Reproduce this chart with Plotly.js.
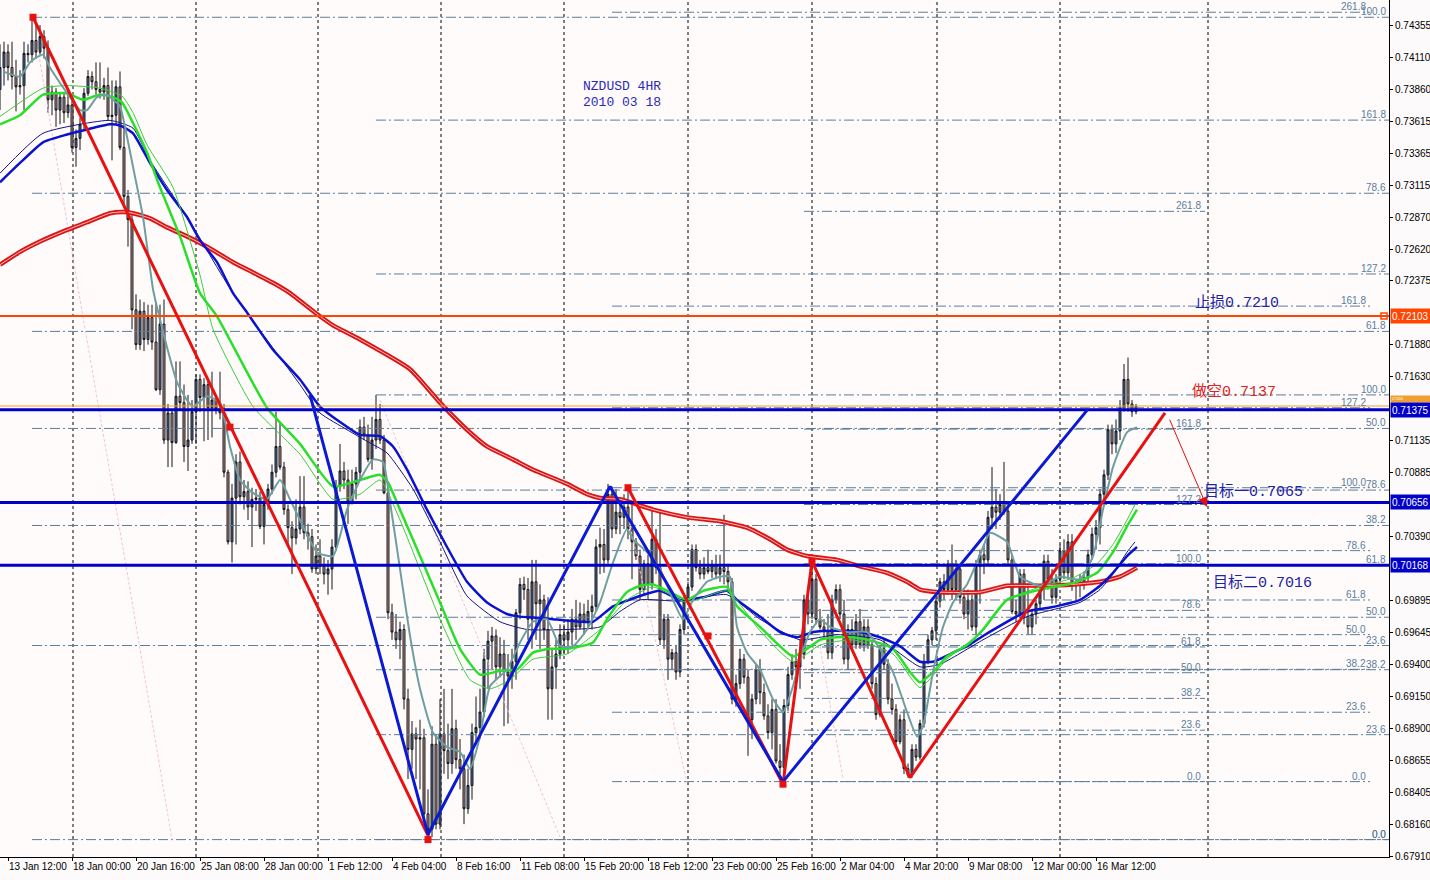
<!DOCTYPE html>
<html><head><meta charset="utf-8">
<script src="https://cdn.plot.ly/plotly-3.0.1.min.js"></script>
<style>html,body{margin:0;padding:0;background:#fcfafa;}</style>
</head><body>
<div id="chart" style="width:1430px;height:880px"></div>
<script>
// ---------- candle data (NZDUSD 4H) ----------
const opens=[.7386,.7403,.7415,.7403,.7396,.7388,.7389,.7414,.7413,.7424,.7415,.7427,.7418,.7378,.7384,.7370,.7380,.7368,.7374,.7341,.7348,.7359,.7383,.7396,.7392,.7386,.7384,.7389,.7365,.7366,.7388,.7341,.7303,.7285,.7215,.7188,.7214,.7192,.7209,.7190,.7153,.7204,.7114,.7135,.7112,.7148,.7143,.7109,.7114,.7136,.7161,.7147,.7157,.7139,.7145,.7138,.7135,.7089,.7035,.7069,.7097,.7070,.7074,.7062,.7068,.7069,.7047,.7064,.7076,.7089,.7109,.7093,.7060,.7046,.7038,.7045,.7062,.7042,.7039,.7014,.7024,.7016,.7010,.7014,.7031,.7078,.7090,.7083,.7066,.7080,.7089,.7124,.7118,.7099,.7114,.7130,.7114,.7073,.6980,.6965,.6959,.6967,.6913,.6874,.6886,.6882,.6883,.6824,.6812,.6878,.6816,.6886,.6873,.6863,.6890,.6866,.6859,.6828,.6846,.6887,.6891,.6903,.6944,.6958,.6962,.6938,.6948,.6934,.6931,.6942,.6980,.7002,.6998,.6975,.7004,.6987,.6990,.6967,.6921,.6938,.6948,.6963,.6959,.6965,.6975,.6969,.6979,.6973,.6981,.6985,.7031,.7033,.7021,.7072,.7045,.7058,.7054,.7062,.7045,.7035,.7024,.6998,.7018,.7002,.7037,.7015,.6959,.6975,.6944,.6949,.6934,.6967,.6989,.7000,.7029,.7015,.7010,.7015,.7012,.7017,.7010,.7015,.7012,.7004,.6913,.6925,.6944,.6930,.6897,.6913,.6936,.6918,.6900,.6887,.6905,.6865,.6860,.6908,.6932,.6942,.6938,.6948,.6990,.6979,.7006,.6975,.6969,.6966,.6949,.6990,.6998,.6979,.6944,.6967,.6955,.6973,.6955,.6969,.6955,.6925,.6901,.6952,.6940,.6913,.6905,.6880,.6897,.6859,.6854,.6874,.6868,.6894,.6942,.6959,.6966,.6989,.7004,.6998,.7018,.6998,.7014,.6992,.6979,.6990,.6969,.7016,.7025,.7021,.7054,.7062,.7058,.7064,.7059,.7021,.6981,.6979,.7010,.6977,.6969,.6979,.6987,.6998,.7020,.7006,.6992,.7006,.7028,.7011,.7035,.7001,.7004,.7002,.7007,.7025,.7041,.7046,.7072,.7087,.7122,.7111,.7121,.7139,.7161,.7142,.7136];
const highs=[.7421,.7423,.7421,.7423,.7409,.7401,.7423,.7421,.7442,.7436,.7436,.7432,.7424,.7389,.7387,.7384,.7384,.7382,.7378,.7355,.7364,.7387,.7401,.7400,.7407,.7407,.7395,.7403,.7393,.7393,.7400,.7359,.7308,.7289,.7227,.7223,.7221,.7219,.7219,.7221,.7219,.7223,.7142,.7138,.7175,.7175,.7157,.7149,.7145,.7165,.7165,.7162,.7161,.7167,.7147,.7167,.7142,.7091,.7080,.7103,.7105,.7083,.7082,.7077,.7076,.7074,.7072,.7080,.7095,.7136,.7128,.7097,.7064,.7051,.7068,.7086,.7086,.7049,.7045,.7033,.7037,.7023,.7021,.7037,.7083,.7111,.7097,.7091,.7091,.7093,.7130,.7132,.7126,.7132,.7149,.7142,.7118,.7077,.6987,.6979,.6973,.6971,.6921,.6896,.6891,.6897,.6890,.6843,.6892,.6886,.6913,.6921,.6894,.6921,.6897,.6882,.6870,.6859,.6894,.6915,.6921,.6952,.6966,.6969,.6967,.6961,.6959,.6948,.6952,.6983,.7007,.7008,.7007,.7021,.7021,.7002,.6994,.6992,.6952,.6959,.6971,.6971,.6975,.6983,.6990,.6988,.6987,.6990,.6994,.7037,.7046,.7045,.7080,.7078,.7076,.7068,.7072,.7078,.7064,.7038,.7029,.7021,.7025,.7060,.7045,.7060,.6979,.6979,.6952,.6955,.6971,.6992,.7004,.7033,.7033,.7021,.7023,.7029,.7021,.7025,.7025,.7056,.7018,.7007,.6932,.6952,.6948,.6936,.6917,.6940,.6944,.6925,.6909,.6913,.6913,.6878,.6913,.6938,.6948,.6952,.6959,.6994,.6998,.7020,.7010,.6983,.6975,.6979,.6994,.7002,.7002,.6990,.6971,.6975,.6979,.6983,.6975,.6975,.6959,.6930,.6955,.6959,.6944,.6925,.6909,.6901,.6905,.6863,.6878,.6878,.6897,.6948,.6963,.6969,.6992,.7007,.7010,.7021,.7033,.7021,.7018,.6998,.6998,.6994,.7021,.7029,.7033,.7059,.7093,.7076,.7072,.7097,.7064,.7025,.6990,.7014,.7014,.7002,.6983,.6990,.7002,.7025,.7025,.7014,.7010,.7033,.7037,.7041,.7041,.7006,.7010,.7012,.7029,.7046,.7052,.7076,.7091,.7126,.7126,.7130,.7145,.7173,.7178,.7145,.7142];
const lows=[.7370,.7389,.7393,.7386,.7369,.7382,.7370,.7407,.7407,.7410,.7413,.7410,.7368,.7366,.7357,.7359,.7360,.7364,.7337,.7326,.7339,.7355,.7381,.7386,.7382,.7379,.7378,.7362,.7331,.7359,.7339,.7296,.7264,.7200,.7184,.7184,.7183,.7188,.7184,.7152,.7149,.7111,.7093,.7093,.7111,.7138,.7097,.7090,.7111,.7111,.7136,.7113,.7114,.7116,.7134,.7130,.7085,.7033,.7019,.7033,.7064,.7060,.7052,.7031,.7059,.7045,.7033,.7060,.7072,.7085,.7091,.7056,.7033,.7010,.7033,.7041,.7037,.7029,.7011,.7010,.7010,.7002,.6994,.6998,.7028,.7074,.7076,.7049,.7064,.7068,.7083,.7114,.7097,.7091,.7107,.7111,.7072,.6975,.6959,.6952,.6944,.6905,.6851,.6859,.6851,.6843,.6820,.6804,.6806,.6812,.6812,.6855,.6851,.6855,.6859,.6843,.6816,.6824,.6835,.6878,.6882,.6899,.6921,.6936,.6928,.6930,.6892,.6894,.6921,.6928,.6975,.6990,.6959,.6952,.6959,.6952,.6959,.6897,.6897,.6921,.6944,.6948,.6948,.6955,.6959,.6967,.6963,.6967,.6967,.6981,.7010,.7011,.7018,.7038,.7041,.7041,.7045,.7037,.7006,.7021,.6990,.6994,.6990,.6998,.7010,.6955,.6952,.6928,.6936,.6928,.6930,.6963,.6987,.6997,.7012,.7006,.7006,.7010,.7007,.7006,.7004,.7002,.6998,.6909,.6907,.6921,.6925,.6869,.6882,.6909,.6909,.6897,.6882,.6874,.6863,.6855,.6846,.6904,.6928,.6932,.6921,.6944,.6971,.6975,.6971,.6967,.6959,.6944,.6944,.6987,.6975,.6940,.6936,.6952,.6952,.6952,.6950,.6952,.6921,.6897,.6899,.6936,.6909,.6901,.6876,.6878,.6855,.6852,.6852,.6865,.6866,.6891,.6940,.6955,.6959,.6984,.6990,.6994,.6990,.6990,.6987,.6975,.6967,.6966,.6963,.6987,.7010,.7018,.7045,.7045,.7052,.7056,.7018,.6979,.6973,.6976,.6971,.6963,.6963,.6971,.6983,.6990,.6998,.6987,.6987,.7002,.7006,.7007,.6997,.6990,.6992,.6998,.7004,.7021,.7029,.7033,.7068,.7083,.7103,.7104,.7114,.7136,.7136,.7132,.7134];
const closes=[.7403,.7415,.7403,.7396,.7388,.7389,.7414,.7413,.7424,.7415,.7427,.7418,.7378,.7384,.7370,.7380,.7368,.7374,.7341,.7348,.7359,.7383,.7396,.7392,.7386,.7384,.7389,.7365,.7366,.7388,.7341,.7303,.7285,.7215,.7188,.7214,.7192,.7209,.7190,.7153,.7204,.7114,.7135,.7112,.7148,.7143,.7109,.7114,.7136,.7161,.7147,.7157,.7139,.7145,.7138,.7135,.7089,.7035,.7069,.7097,.7070,.7074,.7062,.7068,.7069,.7047,.7064,.7076,.7089,.7109,.7093,.7060,.7046,.7038,.7045,.7062,.7042,.7039,.7014,.7024,.7016,.7010,.7014,.7031,.7078,.7090,.7083,.7066,.7080,.7089,.7124,.7118,.7099,.7114,.7130,.7114,.7073,.6980,.6965,.6959,.6967,.6913,.6874,.6886,.6882,.6883,.6824,.6812,.6878,.6816,.6886,.6873,.6863,.6890,.6866,.6859,.6828,.6846,.6887,.6891,.6903,.6944,.6958,.6962,.6938,.6948,.6934,.6931,.6942,.6980,.7002,.6998,.6975,.7004,.6987,.6990,.6967,.6921,.6938,.6948,.6963,.6959,.6965,.6975,.6969,.6979,.6973,.6981,.6985,.7031,.7033,.7021,.7072,.7045,.7058,.7054,.7062,.7045,.7035,.7024,.6998,.7018,.7002,.7037,.7015,.6959,.6975,.6944,.6949,.6934,.6967,.6989,.7000,.7029,.7015,.7010,.7015,.7012,.7017,.7010,.7015,.7012,.7004,.6913,.6925,.6944,.6930,.6897,.6913,.6936,.6918,.6900,.6887,.6905,.6865,.6860,.6908,.6932,.6942,.6938,.6948,.6990,.6979,.7006,.6975,.6969,.6966,.6949,.6990,.6998,.6979,.6944,.6967,.6955,.6973,.6955,.6969,.6955,.6925,.6901,.6952,.6940,.6913,.6905,.6880,.6897,.6859,.6854,.6874,.6868,.6894,.6942,.6959,.6966,.6989,.7004,.6998,.7018,.6998,.7014,.6992,.6979,.6990,.6969,.7016,.7025,.7021,.7054,.7062,.7058,.7064,.7059,.7021,.6981,.6979,.7010,.6977,.6969,.6979,.6987,.6998,.7020,.7006,.6992,.7006,.7028,.7011,.7035,.7001,.7004,.7002,.7007,.7025,.7041,.7046,.7072,.7087,.7122,.7111,.7121,.7139,.7161,.7142,.7136,.7140];

// ---------- time axis labels (bar index -> label) ----------
const xLabelBars=[2,18,34,50,66,82,98,114,130,146,162,178,194,210,226,242,258,274];
const xLabels=["13 Jan 12:00","18 Jan 00:00","20 Jan 16:00","25 Jan 08:00","28 Jan 00:00","1 Feb 12:00","4 Feb 04:00","8 Feb 16:00","11 Feb 08:00","15 Feb 20:00","18 Feb 12:00","23 Feb 00:00","25 Feb 16:00","2 Mar 04:00","4 Mar 20:00","9 Mar 08:00","12 Mar 00:00","16 Mar 12:00"];
const gridBars=[18.25,49,79.5,110.25,141,172,203,234.25,265,302];
// price scale labels (the ones hidden under the price tags are left out)
const yTicks=[0.74355,0.74110,0.73860,0.73615,0.73365,0.73115,0.72870,0.72620,0.72375,0.71880,0.71630,0.71135,0.70885,0.70390,0.69895,0.69645,0.69400,0.69150,0.68900,0.68655,0.68405,0.68160,0.67910];

// ---------- moving averages (sampled) ----------
const maTealX=[0.75,5,7.5,9.25,10.75,12.5,15,17.5,20,21.75,24.25,26.75,28.25,30,31.25,33.25,35.75,38.25,39.25,41.75,44.25,46.75,48.25,51.75,55,57.5,60,63.25,66.75,70,72.5,75,79.25,83.25,86.75,90,93.25,95.75,97.5,100,102.5,105,108.25,111.75,115,117.5,120,122.5,126.75,130,133.25,136.75,140,143.25,146.75,150,153.25,156.75,158.25,161.75,165,168.25,170.75,173.25,176.75,180,182.5,184.25,186.75,190,193.25,195.75,198.25,200,202.5,205,207.5,211.75,216.75,220,223.25,226.75,229.25,230.75,233.25,235.75,238.25,241.75,245,247.5,251.75,255,260,265,270,273.25,275.75,278.25,281.75,284.25];
const maTealY=[.7400,.7396,.7407,.7411,.7413,.7403,.7391,.7380,.7370,.7370,.7380,.7382,.7378,.7373,.7357,.7326,.7287,.7231,.7217,.7186,.7159,.7145,.7140,.7148,.7143,.7109,.7083,.7073,.7068,.7083,.7068,.7052,.7027,.7024,.7060,.7083,.7099,.7097,.7066,.7014,.6962,.6921,.6887,.6876,.6872,.6859,.6884,.6923,.6936,.6957,.6973,.6975,.6954,.6954,.6967,.6988,.7019,.7045,.7037,.7027,.7014,.6990,.6975,.6990,.7004,.7008,.7008,.6969,.6949,.6936,.6913,.6903,.6923,.6944,.6965,.6975,.6969,.6965,.6965,.6952,.6934,.6903,.6884,.6892,.6934,.6969,.6988,.7002,.7025,.7042,.7035,.7008,.7001,.7008,.7006,.7024,.7060,.7093,.7120,.7124];
const maGreenX=[0,5,10.75,16.75,20.75,25,28.25,30.5,33.25,36.75,40,45,50,54.25,66.75,75,83.25,90,95,97,100,105,110,115,120,125,129.25,133.25,137.5,141.75,148.25,151.75,156.75,160,163.25,167.5,171.75,175.75,181.75,184.25,190,195,198.25,201.75,205,209.25,213.25,218.25,223.25,227.5,230,233.25,236.75,241.75,245.75,251.75,260,268.25,274.25,278.25,281.75,284.25];
const maGreenY=[.7359,.7366,.7382,.7383,.7378,.7382,.7380,.7376,.7360,.7337,.7310,.7272,.7228,.7210,.7139,.7111,.7078,.7083,.7087,.7081,.7060,.7024,.6988,.6952,.6932,.6935,.6936,.6949,.6952,.6952,.6957,.6975,.6996,.7001,.7002,.6996,.6990,.6997,.7000,.6985,.6969,.6954,.6946,.6952,.6959,.6961,.6961,.6958,.6952,.6934,.6926,.6934,.6946,.6955,.6967,.6990,.6998,.7003,.7011,.7027,.7047,.7060];
const maGreen2X=[0,10.75,16.75,25,30.5,33.25,36.75,43.25,50,53.25,63.25,75,83.25,90,95,100,110,117.5,122.5,127.5,133.25,141.75,150,156.75,163.25,171.75,181.75,190,198.25,205,213.25,223.25,230,236.75,245.75,251.75,260,268.25,274.25,278.25,281.75,283.75];
const maGreen2Y=[.7365,.7387,.7389,.7387,.7381,.7368,.7343,.7310,.7242,.7200,.7140,.7103,.7068,.7072,.7083,.7052,.6975,.6928,.6921,.6928,.6944,.6948,.6967,.6990,.7000,.6988,.6997,.6966,.6942,.6955,.6959,.6948,.6922,.6944,.6966,.6990,.7000,.7007,.7018,.7033,.7052,.7064];
const maBlueX=[0,5,10.75,16.75,21.75,27.5,30,33.25,37.5,41.75,46.75,50,54.25,58.25,61.75,68.25,75,80,85,90,95,98.25,101.75,106.75,111.75,116.75,121.75,126.75,130,135,138.25,145,148.25,153.25,160,165,170,175.75,181.75,184.25,190,195,199.25,203.25,209.25,215,220,225,230,233.25,238.25,241.75,245.75,256.75,262.5,270,275,278.25,281.75,284.25];
const maBlueY=[.7314,.7329,.7345,.7351,.7355,.7359,.7358,.7352,.7329,.7308,.7287,.7269,.7252,.7228,.7213,.7184,.7161,.7140,.7128,.7118,.7117,.7109,.7091,.7060,.7031,.7004,.6988,.6979,.6977,.6976,.6975,.6973,.6973,.6985,.6993,.6997,.6990,.6992,.6997,.6990,.6977,.6965,.6961,.6965,.6966,.6965,.6961,.6954,.6942,.6942,.6949,.6954,.6962,.6981,.6984,.6990,.7001,.7011,.7024,.7031];
const maNavyX=[0,10.75,27.5,33.25,37.5,46.75,58.25,75,80,86.75,91.75,96.75,103.25,110,116.75,125,131.75,141.75,150,155,160,170,181.75,190,200,209.25,220,230,235,245.75,256.75,270,275,278.25,281.75,283.75];
const maNavyY=[.7321,.7352,.7362,.7356,.7331,.7287,.7228,.7157,.7135,.7122,.7113,.7104,.7076,.7035,.6993,.6973,.6967,.6967,.6969,.6981,.6990,.6989,.6994,.6975,.6959,.6963,.6959,.6938,.6940,.6959,.6977,.6988,.6998,.7010,.7027,.7035];
const maRedX=[0,5,10,16.75,21.75,27.5,30.75,33.25,37.5,41.75,46.75,51.75,58.25,63.25,68.25,72.5,75,80,83.25,90,102.5,110,116.75,121.75,128.25,133.25,141.75,146.75,150,155,163.25,171.75,180,186.75,192.5,196.75,201.75,209.25,215,221.75,226.75,230,235,245,251.75,260,268.25,275,280,284.25];
const maRedY=[.7250,.7260,.7268,.7277,.7283,.7290,.7291,.7290,.7286,.7279,.7272,.7264,.7252,.7244,.7236,.7228,.7222,.7210,.7203,.7192,.7169,.7143,.7122,.7109,.7099,.7091,.7080,.7072,.7069,.7068,.7060,.7054,.7051,.7046,.7037,.7029,.7024,.7021,.7016,.7011,.7004,.6998,.6996,.6996,.7001,.7001,.7002,.7004,.7008,.7015];

// ---------- drawn objects ----------
const zigRed1X=[8.25,107.5], zigRed1Y=[.7442,.6804];
const zigRed2X=[157,195.75,203,227.5,291.25], zigRed2Y=[.7077,.6847,.7020,.6852,.7135];
const zigBlueX=[77.5,107,152.5,195.75,272], zigBlueY=[.7149,.6808,.7078,.6849,.7138];
const redMarkX=[8.25,57.5,107,157,177,195.75,203], redMarkY=[.7442,.7124,.6804,.7077,.6962,.6847,.7020];
const pinkLines=[[[9.5,20,31.25,43],[.7417,.7223,.7021,.6804]],[[95,140],[.7145,.6806]],[[156.75,171.75],[.7058,.6848]],[[205,210.75],[.6954,.6851]]];
const hLevels=[0.72103,0.71404,0.71375,0.70656,0.70168];
const hColors=['#ff4500','#f0a030','#0000c8','#0000c8','#0000c8'];
const hWidths=[2,1,3,3,3];
const arrowFrom=[292.25,.7131], arrowTo=[301.75,.7062];

// Fibonacci retracements: [price at 0%, price at 100%], shown levels, start/end bar
const fibRatiosA=[0,23.6,38.2,50,61.8,78.6,100];
const fibRatiosFull=[0,23.6,38.2,50,61.8,78.6,100,127.2,161.8,261.8];
const fibRatiosB=[0,23.6,38.2,50,61.8,78.6,100,127.2,161.8];
const fibA=[.6804,.7442], fibB=[.6804,.7149], fibC=[.6849,.7077], fibD=[.6849,.7018];
const fibSpanA=[8,347.25], fibSpanB=[94,347.25], fibSpanC=[153,342.5], fibSpanD=[201,301.25];

const notes=[
 {t:'NZDUSD 4HR',x:145.25,y:.7388,c:'#2a2ab8',s:13},
 {t:'2010 03 18',x:145.25,y:.7376,c:'#2a2ab8',s:13},
 {t:'止损0.7210',x:298.25,y:.7220,c:'#2222a6',s:15},
 {t:'做空0.7137',x:297.5,y:.7151,c:'#e02424',s:15},
 {t:'目标一0.7065',x:300.5,y:.7074,c:'#2222a6',s:15},
 {t:'目标二0.7016',x:302.75,y:.7003,c:'#2222a6',s:15}
];

// ---------- build ----------
const idx=opens.map((_,i)=>i);
const traces=[];
const annotations=[];
const shapes=[];
const fibColor='#5a7e9c';
function addFib(anchor,ratios,span,labelX){
  const xs=[],ys=[];
  ratios.forEach(r=>{
    const lv=anchor[0]+(anchor[1]-anchor[0])*r/100;
    xs.push(span[0],span[1],null); ys.push(lv,lv,null);
    annotations.push({x:labelX,y:lv,xref:'x',yref:'y',text:r.toFixed(1),showarrow:false,
      xanchor:'right',yanchor:'bottom',yshift:-2,font:{family:'Liberation Sans, Arial',size:10,color:fibColor}});
  });
  traces.push({type:'scatter',mode:'lines',x:xs,y:ys,hoverinfo:'skip',
    line:{color:fibColor,width:1,dash:'10px,3px,2px,3px'}});
}
addFib(fibA,fibRatiosA,fibSpanA,347);
addFib(fibB,fibRatiosB,fibSpanB,347);
addFib(fibC,fibRatiosFull,fibSpanC,342);
addFib(fibD,fibRatiosFull,fibSpanD,300.75);

gridBars.forEach(g=>shapes.push({type:'line',xref:'x',yref:'paper',x0:g,x1:g,y0:0,y1:1,layer:'below',
  line:{color:'#000',width:1,dash:'3px,3px'}}));

pinkLines.forEach(p=>traces.push({type:'scatter',mode:'lines',x:p[0],y:p[1],hoverinfo:'skip',
  line:{color:'#efc4d6',width:1,dash:'3px,2px'}}));

traces.push({type:'candlestick',x:idx,open:opens,high:highs,low:lows,close:closes,hoverinfo:'skip',
  whiskerwidth:0,
  increasing:{line:{color:'#141414',width:1},fillcolor:'#4a6cae'},
  decreasing:{line:{color:'#141414',width:1},fillcolor:'#c99590'}});

function line(x,y,color,width,shape){traces.push({type:'scatter',mode:'lines',x:x,y:y,hoverinfo:'skip',
  line:{color:color,width:width,shape:shape||'spline',smoothing:0.5}});}
line(maRedX,maRedY,'#dd1414',4.5);
line(maRedX,maRedY,'#f7c2c2',1);
line(maNavyX,maNavyY,'#14147e',1);
line(maBlueX,maBlueY,'#0a12d0',2.5);
line(maGreen2X,maGreen2Y,'#3ccc3c',1);
line(maGreenX,maGreenY,'#28e028',2.5);
line(maTealX,maTealY,'#6e9ea0',2);

hLevels.forEach((h,k)=>traces.push({type:'scatter',mode:'lines',x:[0,347.25],y:[h,h],hoverinfo:'skip',
  line:{color:hColors[k],width:hWidths[k]}}));
traces.push({type:'scatter',mode:'markers',x:[346],y:[hLevels[0]],hoverinfo:'skip',
  marker:{symbol:'square-open',size:6,color:'#ff4500',line:{width:1.5}}});

line(zigRed1X,zigRed1Y,'#e81010',3,'linear');
line(zigRed2X,zigRed2Y,'#e81010',3,'linear');
line(zigBlueX,zigBlueY,'#0a1ad4',3,'linear');
traces.push({type:'scatter',mode:'markers',x:redMarkX,y:redMarkY,hoverinfo:'skip',
  marker:{symbol:'square',size:7,color:'#e81010'}});

annotations.push({x:arrowTo[0],y:arrowTo[1],ax:arrowFrom[0],ay:arrowFrom[1],axref:'x',ayref:'y',xref:'x',yref:'y',
  text:'',showarrow:true,arrowhead:2,arrowsize:2,arrowwidth:1,arrowcolor:'#e01010'});

notes.forEach(n=>annotations.push({x:n.x,y:n.y,xref:'x',yref:'y',text:n.t,showarrow:false,xanchor:'left',yanchor:'middle',
  font:{family:'Liberation Mono, Noto Sans CJK SC, monospace',size:n.s,color:n.c}}));

// price tags on the axis
const tagBg=['#ff4500','#f0a030','#0000c8','#0000c8','#0000c8'];
hLevels.forEach((h,k)=>annotations.push({xref:'paper',yref:'y',x:1,y:h,xanchor:'left',yanchor:'middle',xshift:1,
  text:h.toFixed(5),showarrow:false,bgcolor:tagBg[k],borderpad:1,width:38,height:k===1?4:12,align:'left',
  yshift:k===1?7:0,
  font:{family:'Liberation Sans, Arial',size:k===1?3:10,color:'#ffffff'}}));

const layout={
  width:1430,height:880,
  margin:{l:0,r:41,t:0,b:23},
  paper_bgcolor:'#fcfafa',plot_bgcolor:'#fffbfb',
  showlegend:false,
  hovermode:false,
  xaxis:{range:[0,347.25],showgrid:false,zeroline:false,showline:true,linecolor:'#000',linewidth:1,
    tickmode:'array',tickvals:xLabelBars,ticktext:xLabels,ticks:'outside',ticklen:3,tickcolor:'#000',
    tickangle:0,ticklabelposition:'outside right',automargin:false,
    tickfont:{family:'Liberation Sans, Arial',size:10,color:'#000'},rangeslider:{visible:false},fixedrange:true},
  yaxis:{side:'right',range:[0.67905,0.74554],showgrid:false,zeroline:false,showline:true,linecolor:'#000',linewidth:1,
    tickmode:'array',tickvals:yTicks,ticktext:yTicks.map(v=>v.toFixed(5)),ticks:'outside',ticklen:3,tickcolor:'#000',
    automargin:false,
    tickfont:{family:'Liberation Sans, Arial',size:10,color:'#000'},fixedrange:true},
  shapes:shapes,
  annotations:annotations
};
Plotly.newPlot('chart',traces,layout,{staticPlot:true,displayModeBar:false});
</script>
</body></html>
